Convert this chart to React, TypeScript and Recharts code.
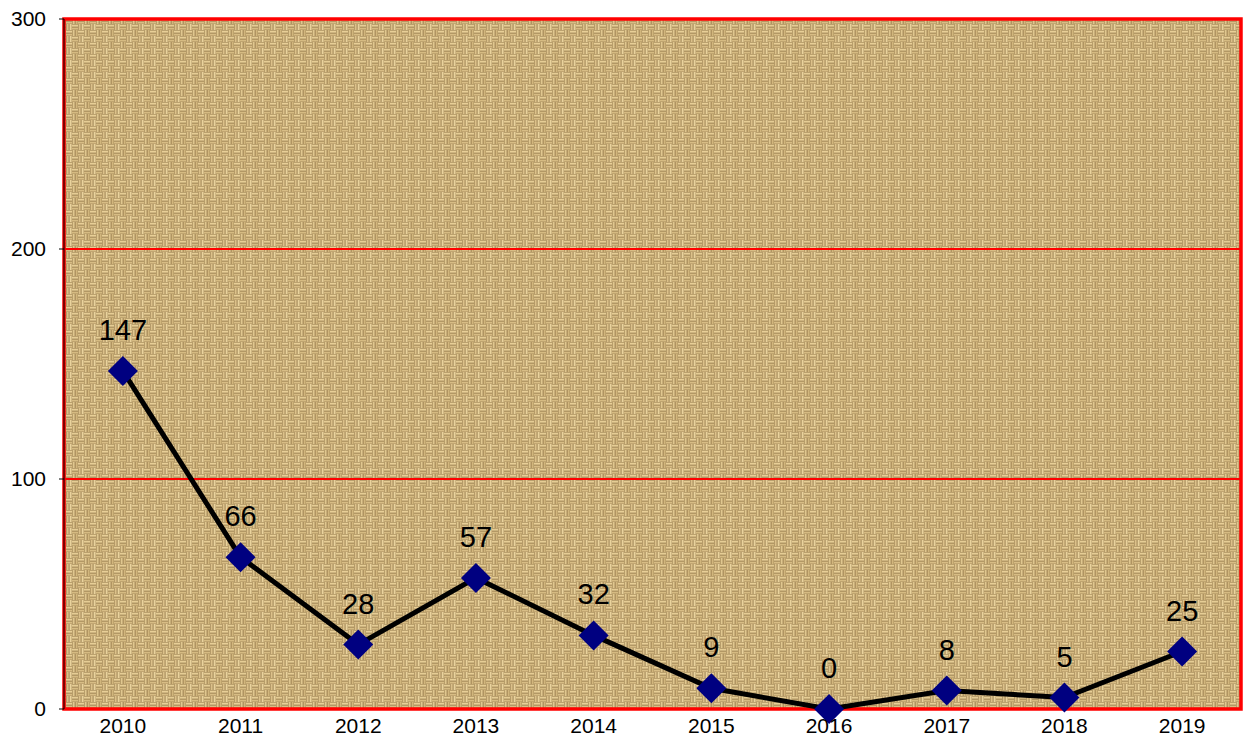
import {
  CartesianGrid,
  LabelList,
  Line,
  LineChart,
  ReferenceArea,
  XAxis,
  YAxis,
} from "recharts";

const years = ["2010", "2011", "2012", "2013", "2014", "2015", "2016", "2017", "2018", "2019"];
const counts = [147, 66, 28, 57, 32, 9, 0, 8, 5, 25];
const yTicks = [0, 100, 200, 300];

const rows = years.map((year, i) => ({ i, year, count: counts[i] }));
const centers = years.map((_, i) => i);
const bounds = [...years.map((_, i) => i - 0.5), years.length - 0.5];
const xDomain = [-0.5, years.length - 0.5];

const diamond = (props: { cx?: number; cy?: number; index?: number }) => {
  const { cx, cy, index } = props;
  if (cx == null || cy == null) return <g key={index} />;
  const r = 15;
  return (
    <polygon
      key={index}
      points={`${cx},${cy - r} ${cx + r},${cy} ${cx},${cy + r} ${cx - r},${cy}`}
      fill="#000080"
    />
  );
};

export default function App() {
  return (
    <div
      style={{
        position: "absolute",
        left: 0,
        top: 0,
        fontFamily: '"Liberation Sans", Arial, sans-serif',
      }}
    >
      <LineChart
        width={1244}
        height={738}
        data={rows}
        margin={{ top: 19, right: 3, left: 0, bottom: 0 }}
      >
        <defs>
          {/* rough basket weave to stand in for the burlap photo */}
          <pattern id="burlap" width="12" height="12" patternUnits="userSpaceOnUse">
            <rect width="12" height="12" fill="#8e7245" />
            <rect x="0" y="0.5" width="6" height="2.2" fill="#e6cd95" />
            <rect x="0" y="3.5" width="6" height="2.2" fill="#d6bb82" />
            <rect x="6.5" y="0" width="2.2" height="6" fill="#dcc18a" />
            <rect x="9.5" y="0" width="2.2" height="6" fill="#ead39d" />
            <rect x="0.5" y="6" width="2.2" height="6" fill="#e0c78f" />
            <rect x="3.5" y="6" width="2.2" height="6" fill="#d2b67d" />
            <rect x="6" y="6.5" width="6" height="2.2" fill="#e8cf97" />
            <rect x="6" y="9.5" width="6" height="2.2" fill="#d8bd85" />
          </pattern>
        </defs>
        <CartesianGrid vertical={false} stroke="#ff0000" strokeWidth={2} fill="url(#burlap)" fillOpacity={1} />
        <XAxis
          xAxisId="marks"
          dataKey="i"
          type="number"
          domain={xDomain}
          ticks={bounds}
          tick={false}
          tickSize={6}
          height={0}
          stroke="#000"
          allowDecimals
        />
        <XAxis
          xAxisId="years"
          dataKey="i"
          type="number"
          domain={xDomain}
          ticks={centers}
          tickFormatter={(v: number) => years[v]}
          axisLine={false}
          tickLine={false}
          tickSize={6}
          tickMargin={3}
          height={29}
          tick={{ fontSize: 21, fill: "#000" }}
        />
        <YAxis
          type="number"
          domain={[0, 300]}
          ticks={yTicks}
          width={64}
          tickSize={5}
          tickMargin={13}
          stroke="#000"
          tick={{ fontSize: 21, fill: "#000" }}
        />
        <ReferenceArea
          xAxisId="years"
          x1={xDomain[0]}
          x2={xDomain[1]}
          y1={0}
          y2={300}
          fill="none"
          stroke="#ff0000"
          strokeWidth={3.5}
        />
        <Line
          xAxisId="years"
          type="linear"
          dataKey="count"
          stroke="#000"
          strokeWidth={5}
          dot={diamond}
          activeDot={false}
          isAnimationActive={false}
        >
          <LabelList dataKey="count" position="top" offset={31} fontSize={29} fill="#000" />
        </Line>
      </LineChart>
    </div>
  );
}
